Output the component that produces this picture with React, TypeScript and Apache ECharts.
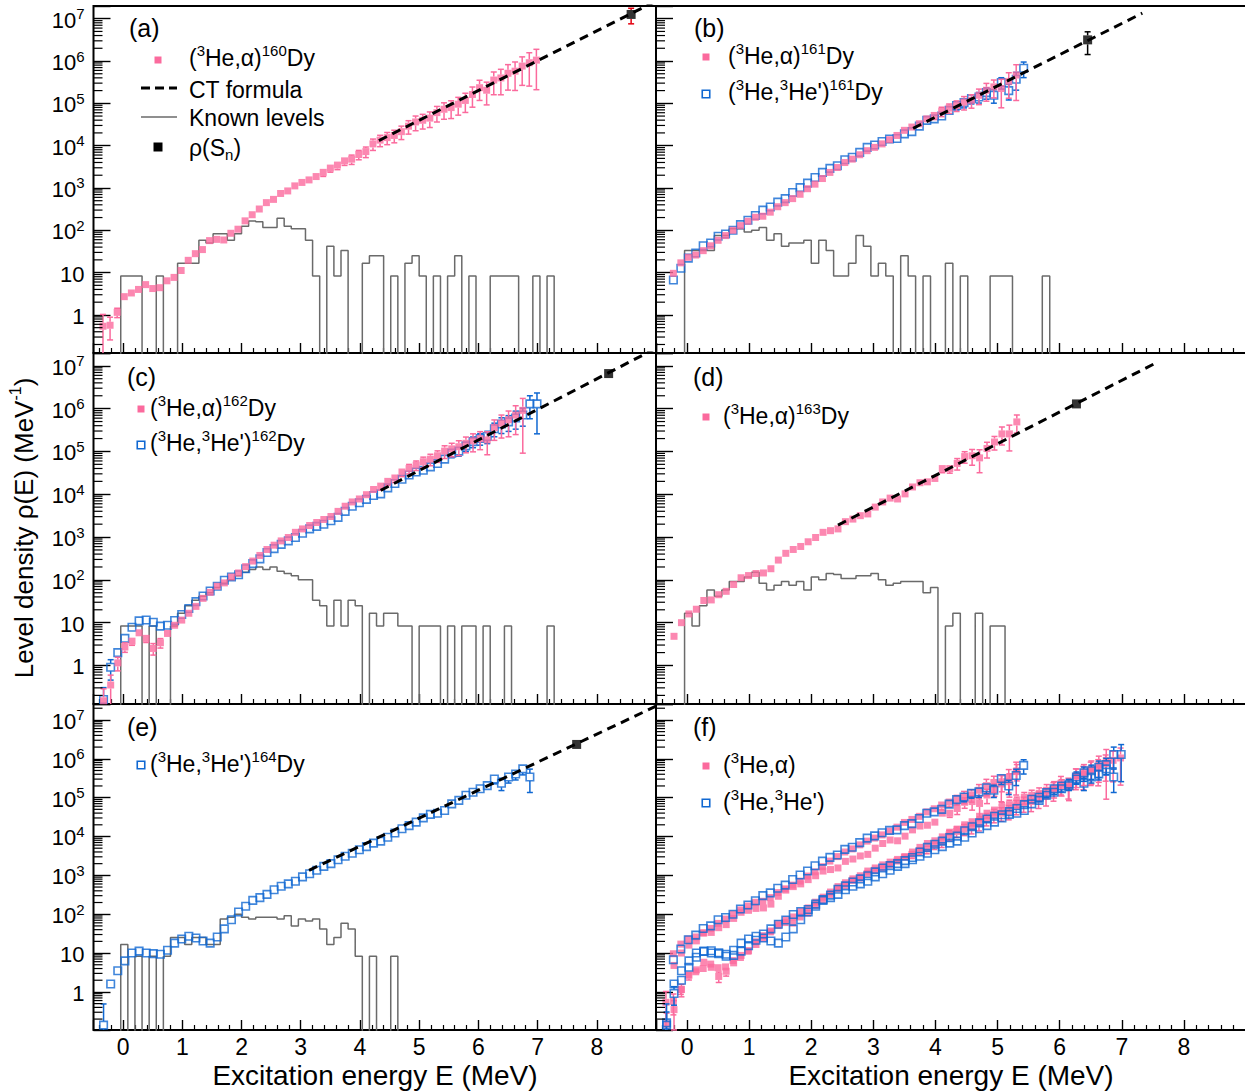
import React, { useEffect, useRef } from 'react';
import * as echarts from 'echarts';

const FONT = '"Liberation Sans", Arial, Helvetica, sans-serif';
const PINK = '#fb6a9d';
const BLUE = '#1068d2';
const GREY = '#6a6a6a';
const RED = '#e3000f';

const BIN = 0.12; // MeV per bin
const LEV_E0 = -0.04; // first known-level bin edge (MeV)
const X_MIN = -0.5;
const X_MAX = 9;
const Y_UPPER: [number, number] = [Math.pow(10, -0.9), Math.pow(10, 7.3)];
const Y_LOWER: [number, number] = [Math.pow(10, -0.98), Math.pow(10, 7.41)];
const X_TICK_LABELS = ['0', '1', '2', '3', '4', '5', '6', '7', '8'];

// ---------- (3He,alpha) level densities ----------
const E0_A160 = -0.34;
const rhoA160 = [0.54, 0.57, 1.15, 2.7, 3.3, 4.0, 5.2, 4.2, 4.4, 6.4, 7.7, 11.2, 19.5, 28, 35, 57, 61, 59, 85, 106, 167, 233, 318, 450, 537, 741, 851, 1120, 1350, 1550, 1860, 2340, 2950, 3470, 4370, 4790, 6170, 7240, 11000, 13500, 15500, 17400, 21400, 28800, 36300, 39800, 44700, 60300, 72400, 79400, 95500, 117000, 162000, 234000, 204000, 355000, 398000, 513000, 575000, 759000, 912000, 1050000];
const errA160 = [0.9, 0.55, 0.25, 0.18, 0.18, 0.14, 0.14, 0.14, 0.14, 0.12, 0.12, 0.08, 0.08, 0.08, 0.08, 0.08, 0.08, 0.08, 0.08, 0.08, 0.08, 0.08, 0.08, 0.08, 0.08, 0.08, 0.09, 0.1, 0.12, 0.15, 0.18, 0.2, 0.2, 0.22, 0.22, 0.25, 0.25, 0.28, 0.3, 0.3, 0.32, 0.33, 0.35, 0.35, 0.38, 0.38, 0.4, 0.4, 0.42, 0.45, 0.45, 0.48, 0.5, 0.5, 0.55, 0.55, 0.6, 0.6, 0.65, 0.65, 0.72, 0.8];

const E0_A161 = -0.22;
const rhoA161 = [9.6, 17, 23, 26, 33, 43, 58, 75, 100, 129, 163, 203, 215, 268, 360, 450, 560, 710, 960, 1230, 1670, 2330, 3040, 3990, 4800, 6100, 7600, 9100, 11000, 13800, 17400, 23000, 27500, 33000, 43000, 51700, 64700, 77000, 89000, 107000, 118000, 155000, 204000, 245000, 224000, 330000, 467000];
const errA161 = [0.1, 0.08, 0.06, 0.06, 0.06, 0.06, 0.06, 0.06, 0.06, 0.06, 0.06, 0.06, 0.06, 0.06, 0.06, 0.06, 0.06, 0.06, 0.06, 0.06, 0.06, 0.06, 0.06, 0.06, 0.06, 0.06, 0.07, 0.08, 0.1, 0.1, 0.12, 0.12, 0.14, 0.15, 0.17, 0.2, 0.25, 0.25, 0.28, 0.35, 0.35, 0.4, 0.45, 0.45, 0.65, 0.6, 0.75];

const E0_A162 = -0.33;
const rhoA162 = [0.15, 0.35, 1.15, 2.7, 3.7, 5.8, 4.3, 2.5, 3.4, 5.6, 8.7, 11.5, 16.6, 24, 37, 51, 71, 85, 117, 145, 204, 275, 372, 513, 646, 813, 977, 1290, 1550, 1860, 2190, 2570, 3020, 3980, 5250, 6610, 7760, 9770, 12900, 15500, 20000, 24000, 33100, 39800, 47900, 57500, 66100, 79400, 102000, 115000, 129000, 155000, 178000, 200000, 186000, 363000, 457000, 550000, 708000, 912000];
const errA162 = [0.9, 0.7, 0.35, 0.25, 0.2, 0.15, 0.2, 0.3, 0.25, 0.15, 0.12, 0.08, 0.06, 0.06, 0.06, 0.06, 0.06, 0.06, 0.06, 0.06, 0.06, 0.06, 0.06, 0.06, 0.06, 0.06, 0.06, 0.06, 0.07, 0.08, 0.09, 0.1, 0.1, 0.12, 0.12, 0.14, 0.15, 0.16, 0.18, 0.2, 0.2, 0.22, 0.22, 0.25, 0.25, 0.28, 0.3, 0.3, 0.33, 0.35, 0.38, 0.4, 0.45, 0.45, 0.55, 0.5, 0.55, 0.6, 0.65, 0.9];

const E0_A163 = -0.21;
const rhoA163 = [4.8, 10, 16, 20.6, 33, 34, 45, 54, 78, 112, 126, 141, 145, 182, 290, 417, 513, 603, 776, 977, 1290, 1410, 1550, 2290, 2630, 3160, 3470, 5010, 6610, 8130, 7760, 10200, 14800, 18600, 19500, 23400, 39800, 39800, 52500, 75900, 79400, 70800, 117000, 166000, 257000, 257000, 490000];
const errA163 = [0.05, 0.05, 0.05, 0.05, 0.05, 0.05, 0.05, 0.05, 0.05, 0.05, 0.05, 0.05, 0.05, 0.05, 0.05, 0.05, 0.05, 0.05, 0.05, 0.05, 0.06, 0.07, 0.08, 0.08, 0.09, 0.1, 0.1, 0.11, 0.12, 0.12, 0.13, 0.14, 0.15, 0.15, 0.15, 0.15, 0.2, 0.22, 0.3, 0.3, 0.4, 0.55, 0.4, 0.35, 0.45, 0.6, 0.45];

// ---------- (3He,3He') level densities ----------
const E0_P161 = -0.22;
const rhoP161 = [6.7, 12.7, 22, 29, 43, 50, 72, 82, 100, 136, 173, 223, 300, 355, 464, 560, 780, 1020, 1300, 1770, 2330, 2900, 3340, 4650, 5300, 6950, 9100, 10400, 12500, 14400, 14800, 19000, 21500, 29000, 39500, 43000, 50000, 68000, 89000, 104000, 129000, 141000, 179000, 155000, 310000, 200000, 372000, 675000];
const errP161 = [0.12, 0.08, 0.06, 0.05, 0.05, 0.05, 0.05, 0.05, 0.05, 0.05, 0.05, 0.05, 0.05, 0.05, 0.05, 0.05, 0.05, 0.05, 0.05, 0.05, 0.05, 0.05, 0.05, 0.05, 0.05, 0.05, 0.06, 0.07, 0.08, 0.09, 0.1, 0.1, 0.12, 0.12, 0.14, 0.15, 0.17, 0.2, 0.22, 0.25, 0.25, 0.28, 0.3, 0.35, 0.3, 0.4, 0.45, 0.4];

const E0_P162 = -0.33;
const rhoP162 = [0.16, 0.91, 2.0, 4.3, 7.8, 11, 11.5, 10.2, 8.3, 8.7, 11.2, 15.5, 21.4, 31, 42, 55, 71, 98, 117, 132, 182, 240, 309, 437, 537, 676, 813, 977, 1230, 1550, 1780, 2000, 2400, 2880, 3980, 5250, 6310, 7590, 9330, 10200, 14100, 17800, 22400, 28200, 33100, 36300, 43700, 52500, 66100, 91200, 102000, 135000, 170000, 200000, 224000, 339000, 437000, 490000, 603000, 708000, 1290000, 1290000];
const errP162 = [0.9, 0.5, 0.15, 0.1, 0.08, 0.06, 0.06, 0.06, 0.06, 0.06, 0.05, 0.05, 0.05, 0.05, 0.05, 0.05, 0.05, 0.05, 0.05, 0.05, 0.05, 0.05, 0.05, 0.05, 0.05, 0.05, 0.05, 0.05, 0.05, 0.05, 0.05, 0.05, 0.06, 0.06, 0.07, 0.08, 0.08, 0.09, 0.1, 0.1, 0.12, 0.12, 0.13, 0.14, 0.15, 0.16, 0.17, 0.18, 0.2, 0.22, 0.24, 0.26, 0.28, 0.3, 0.32, 0.35, 0.4, 0.4, 0.45, 0.45, 0.55, 0.8];

const E0_P164 = -0.33;
const rhoP164 = [0.14, 1.6, 3.5, 6.3, 10, 11.2, 10, 9.7, 9.3, 11.8, 18, 23, 27, 24.5, 20.5, 18, 26, 42, 72, 114, 160, 227, 267, 324, 427, 525, 603, 708, 912, 1100, 1350, 1700, 2000, 2510, 3090, 3720, 4570, 5500, 6760, 7590, 9550, 12300, 15800, 19100, 23400, 30200, 37200, 39800, 46800, 69200, 85100, 115000, 138000, 170000, 204000, 302000, 234000, 339000, 407000, 550000, 339000];
const errP164 = [2.5, 0.12, 0.08, 0.06, 0.05, 0.05, 0.05, 0.05, 0.05, 0.05, 0.05, 0.05, 0.05, 0.05, 0.05, 0.05, 0.05, 0.05, 0.05, 0.05, 0.05, 0.05, 0.05, 0.05, 0.05, 0.05, 0.05, 0.05, 0.05, 0.05, 0.05, 0.05, 0.05, 0.05, 0.05, 0.06, 0.06, 0.06, 0.07, 0.07, 0.08, 0.08, 0.09, 0.1, 0.1, 0.11, 0.12, 0.13, 0.15, 0.15, 0.17, 0.18, 0.2, 0.2, 0.22, 0.25, 0.35, 0.3, 0.3, 0.3, 0.6];

// ---------- known discrete levels: counts per 0.12 MeV bin from LEV_E0 ----------
const known160 = [1, 1, 1, 0, 0, 1, 0, 0, 2, 2, 2, 7, 6, 10, 10, 7, 10, 15, 20, 19, 14, 14, 23, 15, 13, 13, 7, 1, 0, 5, 1, 4, 0, 0, 2, 3, 3, 0, 1, 0, 2, 3, 1, 0, 1, 0, 1, 3, 0, 1, 0, 0, 1, 1, 1, 1, 0, 0, 1, 0, 1];
const known161 = [4, 4, 4, 4, 9, 9, 13, 13, 11, 12, 14, 7, 10, 5, 6, 6, 7, 2, 7, 4, 1, 1, 2, 9, 5, 1, 2, 1, 0, 3, 1, 0, 1, 0, 0, 2, 0, 1, 0, 0, 0, 1, 1, 1, 0, 0, 0, 0, 1];
const known162 = [1, 1, 1, 0, 1, 0, 0, 1, 2, 3, 4, 5, 6, 8, 10, 12, 15, 18, 21, 24, 21, 24, 19, 17, 15, 12, 12, 4, 3, 1, 4, 1, 4, 3, 0, 2, 1, 2, 2, 1, 1, 0, 1, 1, 1, 0, 1, 0, 1, 1, 0, 1, 0, 0, 1, 0, 0, 0, 0, 0, 1];
const known163 = [2, 1, 3, 7, 5, 7, 11, 11, 14, 18, 10, 7, 9, 11, 9, 11, 7, 14, 12, 17, 16, 13, 13, 15, 15, 17, 12, 9, 10, 11, 11, 11, 6, 8, 0, 1, 2, 0, 0, 2, 0, 1, 1];
const known164 = [2, 0, 1, 0, 1, 0, 1, 3, 3, 2, 3, 3, 2, 2, 9, 10, 12, 10, 9, 10, 10, 10, 9, 11, 6, 9, 8, 9, 5, 2, 3, 7, 5, 1, 0, 1, 0, 0, 1];

// ---------- constant-temperature formula segments & rho(Sn) ----------
const CT_E = [[4.32, 9.0], [3.64, 7.33], [4.35, 9.0], [2.43, 7.55], [3.14, 9.0]];
const CT_RHO = [[13200, 2.6e7], [25700, 1.35e7], [12300, 2.57e7], [1905, 1.17e7], [1350, 2.26e7]];
const SN_E = [8.58, 6.45, 8.2, 6.27, 7.66];
const SN_RHO = [1.26e7, 3.16e6, 6.6e6, 1.29e6, 2.34e6];
const SN_ERR = [0.4, 0.55, 0.1, 0.12, 0.08];

// ---------- layout ----------
const GRIDS = [
  { left: 93.5, top: 6, width: 562.5, height: 347 },
  { left: 656, top: 6, width: 590, height: 347 },
  { left: 93.5, top: 353, width: 562.5, height: 351 },
  { left: 656, top: 353, width: 590, height: 351 },
  { left: 93.5, top: 704, width: 562.5, height: 326 },
  { left: 656, top: 704, width: 590, height: 326 },
];
const YR = [Y_UPPER, Y_UPPER, Y_UPPER, Y_UPPER, Y_LOWER, Y_LOWER];

const richSup = (fs: number, ss: number, pad: number) => ({
  b: { fontSize: fs, fontFamily: FONT, color: '#000', verticalAlign: 'bottom', lineHeight: fs + 3 },
  s: { fontSize: ss, fontFamily: FONT, color: '#000', verticalAlign: 'top', lineHeight: ss + 1, padding: [0, 0, pad, 0] },
});
const richSub = (fs: number, ss: number, pad: number) => ({
  b: { fontSize: fs, fontFamily: FONT, color: '#000', verticalAlign: 'top', lineHeight: fs + 3 },
  u: { fontSize: ss, fontFamily: FONT, color: '#000', verticalAlign: 'bottom', lineHeight: ss + 1, padding: [pad, 0, 0, 0] },
});

function pts(E0: number, vals: number[]) {
  return vals.map((v, i) => [E0 + i * BIN, v]);
}

function errSeries(g: number, E0: number, vals: number[], rel: number[], color: string, half: number, z: number) {
  const yr = YR[g];
  const data = vals.map((v, i) => {
    const e = v * rel[i];
    const lo = v - e;
    const hi = v + e;
    return [E0 + i * BIN, v, Math.max(lo, yr[0]), Math.min(hi, yr[1]), lo > yr[0] ? 1 : 0, hi < yr[1] ? 1 : 0];
  });
  return {
    type: 'custom', xAxisIndex: g, yAxisIndex: g, z, silent: true,
    dimensions: ['x', 'y', 'lo', 'hi', 'cl', 'ch'],
    encode: { x: 0, y: 1 },
    data,
    renderItem: (_p: any, api: any) => {
      const x = api.value(0);
      const c = api.coord([x, api.value(1)]);
      const a = api.coord([x, api.value(2)]);
      const b = api.coord([x, api.value(3)]);
      const st = { stroke: color, lineWidth: 1.5 };
      const ch: any[] = [];
      if (a[1] - c[1] > half + 0.5) {
        ch.push({ type: 'line', shape: { x1: c[0], y1: c[1] + half, x2: c[0], y2: a[1] }, style: st });
        if (api.value(4)) ch.push({ type: 'line', shape: { x1: c[0] - 3, y1: a[1], x2: c[0] + 3, y2: a[1] }, style: st });
      }
      if (c[1] - b[1] > half + 0.5) {
        ch.push({ type: 'line', shape: { x1: c[0], y1: c[1] - half, x2: c[0], y2: b[1] }, style: st });
        if (api.value(5)) ch.push({ type: 'line', shape: { x1: c[0] - 3, y1: b[1], x2: c[0] + 3, y2: b[1] }, style: st });
      }
      return { type: 'group', children: ch };
    },
  };
}

function scatter(g: number, E0: number, vals: number[], blue: boolean, z: number) {
  return {
    type: 'scatter', xAxisIndex: g, yAxisIndex: g, z, silent: true,
    data: pts(E0, vals), symbol: 'rect', symbolSize: blue ? 7.5 : 7,
    itemStyle: blue ? { color: 'rgba(255,255,255,0)', borderColor: BLUE, borderWidth: 1.6 } : { color: PINK },
  };
}

function dataSet(g: number, E0: number, vals: number[], rel: number[], blue: boolean, z: number) {
  return [
    errSeries(g, E0, vals, rel, blue ? BLUE : PINK, blue ? 4 : 3.5, z),
    scatter(g, E0, vals, blue, z + 0.5),
  ];
}

function levelSeries(g: number, counts: number[]) {
  const floor = YR[g][0] / 10;
  const data: number[][] = [[LEV_E0, floor]];
  counts.forEach((c, i) => data.push([LEV_E0 + i * BIN, c > 0 ? c / BIN : floor]));
  data.push([LEV_E0 + counts.length * BIN, floor]);
  return {
    type: 'line', xAxisIndex: g, yAxisIndex: g, step: 'end', symbol: 'none', showSymbol: false,
    data, lineStyle: { color: GREY, width: 1.5 }, z: 2, silent: true, clip: true,
  };
}

function ctSeries(g: number, k: number) {
  return {
    type: 'line', xAxisIndex: g, yAxisIndex: g, symbol: 'none', showSymbol: false, clip: true, silent: true,
    data: [[CT_E[k][0], CT_RHO[k][0]], [CT_E[k][1], CT_RHO[k][1]]],
    lineStyle: { color: '#000', width: 3, type: [9, 6] }, z: 8,
  };
}

function snSeries(g: number, k: number) {
  return [
    errSeries(g, SN_E[k], [SN_RHO[k]], [SN_ERR[k]], k === 0 ? RED : '#000', 4.5, 9),
    {
      type: 'scatter', xAxisIndex: g, yAxisIndex: g, z: 9.5, silent: true,
      data: [[SN_E[k], SN_RHO[k]]], symbol: 'rect', symbolSize: 9, itemStyle: { color: '#000' },
    },
  ];
}

function minorYTicks(g: number) {
  const [mn, mx] = YR[g];
  const vals: number[] = [];
  for (let n = -2; n <= 8; n++) for (let m = 2; m <= 9; m++) {
    const v = m * Math.pow(10, n);
    if (v > mn && v < mx) vals.push(v);
  }
  return {
    type: 'custom', xAxisIndex: g, yAxisIndex: g, z: 20, silent: true,
    data: vals.map((v) => [X_MIN, v]), encode: { x: 0, y: 1 },
    renderItem: (_p: any, api: any) => {
      const c = api.coord([X_MIN, api.value(1)]);
      return { type: 'line', shape: { x1: c[0], y1: c[1], x2: c[0] + 9, y2: c[1] }, style: { stroke: '#000', lineWidth: 1.2 } };
    },
  };
}

const yLabel = (v: number) => {
  const l = Math.log10(v);
  const n = Math.round(l);
  if (Math.abs(l - n) > 1e-6 || n < 0) return '';
  if (n === 0) return '{b|1}';
  if (n === 1) return '{b|10}';
  return '{b|10}{s|' + n + '}';
};

const xLabel = (v: number) => {
  const n = Math.round(v);
  if (Math.abs(v - n) > 1e-6 || n < 0 || n > 8) return '';
  return X_TICK_LABELS[n];
};

function txt(x: number, y: number, text: string, rich: any, extra: any = {}) {
  return {
    type: 'text', x, y, silent: true, z: 50,
    style: { text, rich, fontFamily: FONT, fontSize: 23, fill: '#000', textAlign: 'left', textVerticalAlign: 'middle', ...extra },
  };
}
const RS = richSup(23, 15, 18);
const RSUB = richSub(23, 15, 15);
const pinkKey = (cx: number, cy: number) => ({ type: 'rect', z: 50, silent: true, shape: { x: cx - 3.5, y: cy - 3.5, width: 7, height: 7 }, style: { fill: PINK } });
const blueKey = (cx: number, cy: number) => ({ type: 'rect', z: 50, silent: true, shape: { x: cx - 3.75, y: cy - 3.75, width: 7.5, height: 7.5 }, style: { fill: 'none', stroke: BLUE, lineWidth: 1.6 } });
const panelLabel = (x: number, y: number, t: string) => txt(x, y, t, undefined, { fontSize: 25 });

export default function App() {
  const ref = useRef<HTMLDivElement>(null);
  useEffect(() => {
    if (!ref.current) return;
    const chart = echarts.init(ref.current, null, { renderer: 'svg' });

    const grid = GRIDS.map((g) => ({
      ...g, show: true, borderColor: '#000', borderWidth: 2, backgroundColor: 'transparent',
      containLabel: false, outerBoundsMode: 'none',
    }));
    const xAxis = GRIDS.map((_, g) => ({
      gridIndex: g, type: 'value', position: 'bottom', min: X_MIN, max: X_MAX, splitNumber: 10, minInterval: 1, maxInterval: 1,
      axisLine: { show: false, onZero: false },
      axisTick: { show: true, inside: true, length: 10, lineStyle: { color: '#000', width: 1.4 } },
      minorTick: { show: true, splitNumber: 5, length: 5, lineStyle: { color: '#000', width: 1.2 } },
      splitLine: { show: false }, minorSplitLine: { show: false },
      axisLabel: { show: g >= 4, formatter: xLabel, fontSize: 23, fontFamily: FONT, color: '#000', margin: 5 },
    }));
    const yAxis = GRIDS.map((_, g) => ({
      gridIndex: g, type: 'log', logBase: 10, position: 'left', min: YR[g][0], max: YR[g][1], splitNumber: 10,
      axisLine: { show: false, onZero: false },
      axisTick: { show: true, inside: true, length: 17, lineStyle: { color: '#000', width: 1.4 } },
      splitLine: { show: false },
      axisLabel: { show: g % 2 === 0, formatter: yLabel, rich: richSup(22, 15, 16), fontFamily: FONT, color: '#000', margin: 9 },
    }));

    const series: any[] = [];
    // (a)
    series.push(levelSeries(0, known160), ...dataSet(0, E0_A160, rhoA160, errA160, false, 4), ctSeries(0, 0), ...snSeries(0, 0));
    // (b)
    series.push(levelSeries(1, known161), ...dataSet(1, E0_P161, rhoP161, errP161, true, 4), ...dataSet(1, E0_A161, rhoA161, errA161, false, 5), ctSeries(1, 1), ...snSeries(1, 1));
    // (c)
    series.push(levelSeries(2, known162), ...dataSet(2, E0_P162, rhoP162, errP162, true, 4), ...dataSet(2, E0_A162, rhoA162, errA162, false, 5), ctSeries(2, 2), ...snSeries(2, 2));
    // (d)
    series.push(levelSeries(3, known163), ...dataSet(3, E0_A163, rhoA163, errA163, false, 4), ctSeries(3, 3), ...snSeries(3, 3));
    // (e)
    series.push(levelSeries(4, known164), ...dataSet(4, E0_P164, rhoP164, errP164, true, 4), ctSeries(4, 4), ...snSeries(4, 4));
    // (f)
    series.push(
      ...dataSet(5, E0_A160, rhoA160, errA160, false, 3),
      ...dataSet(5, E0_A162, rhoA162, errA162, false, 3),
      ...dataSet(5, E0_A161, rhoA161, errA161, false, 3),
      ...dataSet(5, E0_A163, rhoA163, errA163, false, 3),
      ...dataSet(5, E0_P161, rhoP161, errP161, true, 5),
      ...dataSet(5, E0_P162, rhoP162, errP162, true, 5),
      ...dataSet(5, E0_P164, rhoP164, errP164, true, 5),
    );
    for (let g = 0; g < 6; g++) series.push(minorYTicks(g));

    const graphic: any[] = [
      panelLabel(129, 28, '(a)'), panelLabel(694, 28, '(b)'), panelLabel(127, 377, '(c)'),
      panelLabel(693, 377, '(d)'), panelLabel(127, 727, '(e)'), panelLabel(693, 727, '(f)'),
      // (a) legend
      pinkKey(158, 60), txt(189, 56, '{b|(}{s|3}{b|He,α)}{s|160}{b|Dy}', RS),
      { type: 'line', z: 50, silent: true, shape: { x1: 141, y1: 88, x2: 177, y2: 88 }, style: { stroke: '#000', lineWidth: 3, lineDash: [9, 5] } },
      txt(189, 88, '{b|CT formula}', RS),
      { type: 'line', z: 50, silent: true, shape: { x1: 141, y1: 117, x2: 177, y2: 117 }, style: { stroke: GREY, lineWidth: 1.5 } },
      txt(189, 116, '{b|Known levels}', RS),
      { type: 'rect', z: 50, silent: true, shape: { x: 153.5, y: 142.5, width: 9, height: 9 }, style: { fill: '#000' } },
      txt(189, 149, '{b|ρ(S}{u|n}{b|)}', RSUB),
      // (b) legend
      pinkKey(706, 57), txt(728, 54, '{b|(}{s|3}{b|He,α)}{s|161}{b|Dy}', RS),
      blueKey(706, 94), txt(728, 90, "{b|(}{s|3}{b|He,}{s|3}{b|He')}{s|161}{b|Dy}", RS),
      // (c) legend
      pinkKey(141, 409), txt(150, 406, '{b|(}{s|3}{b|He,α)}{s|162}{b|Dy}', RS),
      blueKey(141, 445), txt(150, 441, "{b|(}{s|3}{b|He,}{s|3}{b|He')}{s|162}{b|Dy}", RS),
      // (d) legend
      pinkKey(706, 417), txt(723, 414, '{b|(}{s|3}{b|He,α)}{s|163}{b|Dy}', RS),
      // (e) legend
      blueKey(141, 765), txt(150, 762, "{b|(}{s|3}{b|He,}{s|3}{b|He')}{s|164}{b|Dy}", RS),
      // (f) legend
      pinkKey(706, 766), txt(723, 763, '{b|(}{s|3}{b|He,α)}', RS),
      blueKey(706, 803), txt(723, 800, "{b|(}{s|3}{b|He,}{s|3}{b|He')}", RS),
      // axis titles
      txt(375, 1075, 'Excitation energy E (MeV)', undefined, { fontSize: 28, textAlign: 'center' }),
      txt(951, 1075, 'Excitation energy E (MeV)', undefined, { fontSize: 28, textAlign: 'center' }),
      { ...txt(22, 528, '{b|Level density ρ(E) (MeV}{s|-1}{b|)}', richSup(26, 16, 18), { textAlign: 'center' }), rotation: Math.PI / 2 },
    ];

    chart.setOption({
      animation: false,
      backgroundColor: '#fff',
      grid, xAxis, yAxis, series, graphic,
    });
    return () => chart.dispose();
  }, []);
  return <div ref={ref} style={{ position: 'absolute', left: 0, top: 0, width: 1245, height: 1091 }} />;
}
